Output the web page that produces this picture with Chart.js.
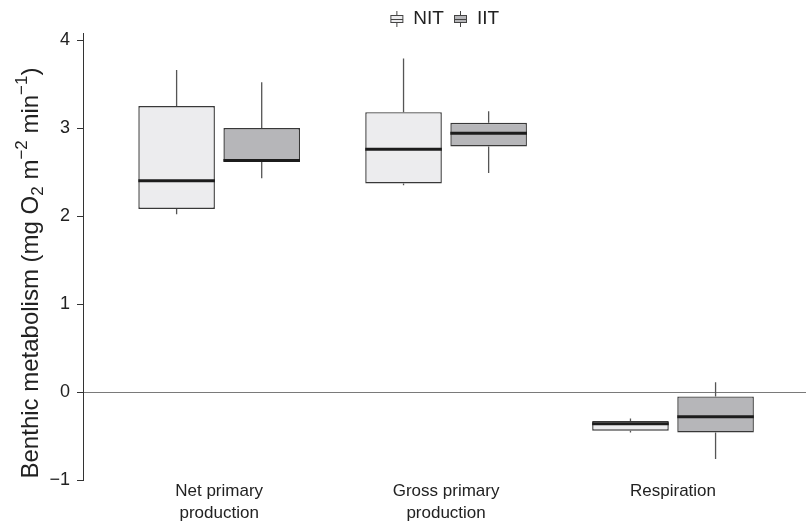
<!DOCTYPE html>
<html>
<head>
<meta charset="utf-8">
<script src="https://cdn.jsdelivr.net/npm/chart.js@4.4.0/dist/chart.umd.min.js"></script>
<style>
  html, body { margin: 0; padding: 0; background: #ffffff; }
  #wrap { width: 806px; height: 522px; position: relative; }
</style>
</head>
<body>
<div id="wrap"><canvas id="chart"></canvas></div>
<script>
// Categories and their positions on the x axis
const categories = [['Net primary', 'production'], ['Gross primary', 'production'], ['Respiration']];
const categoryPositions = [1, 2, 3];
const seriesNames = ['NIT', 'IIT'];

// Box-plot summaries (mg O2 m-2 min-1), one entry per category
const nitMin    = [2.02, 2.35, -0.46];
const nitQ1     = [2.08, 2.37, -0.44];
const nitMedian = [2.40, 2.76, -0.36];
const nitQ3     = [3.25, 3.18, -0.33];
const nitMax    = [3.66, 3.79, -0.30];

const iitMin    = [2.43, 2.49, -0.76];
const iitQ1     = [2.62, 2.79, -0.46];
const iitMedian = [2.63, 2.94, -0.28];
const iitQ3     = [3.00, 3.06, -0.05];
const iitMax    = [3.52, 3.19, 0.11];

const yTicks = [-1, 0, 1, 2, 3, 4];

const FONT = '"Liberation Sans", Arial, Helvetica, sans-serif';
const INK = '#222222';

// Small box-plot glyph used as the legend symbol
function boxGlyph(fill) {
  const c = document.createElement('canvas');
  c.width = 15; c.height = 18;
  const g = c.getContext('2d');
  g.strokeStyle = '#444';
  g.lineWidth = 1;
  g.beginPath(); g.moveTo(7.5, 1); g.lineTo(7.5, 17); g.stroke();
  g.fillStyle = fill;
  g.fillRect(1, 5, 13, 8);
  g.strokeRect(1.5, 5.5, 12, 7);
  g.beginPath(); g.moveTo(1, 9.5); g.lineTo(14, 9.5); g.stroke();
  return c;
}

const fills = ['#ececee', '#b6b6b9'];
const glyphs = fills.map(boxGlyph);

function makeDataset(name, q1, q3, min, median, max, fill) {
  return {
    label: name,
    data: categoryPositions.map((x, i) => ({ x: x, y: [q1[i], q3[i]] })),
    summary: { min: min, median: median, max: max },
    backgroundColor: fill,
    borderColor: '#383838',
    borderWidth: 1.4,
    borderSkipped: false,
    barPercentage: 0.9,
    categoryPercentage: 0.75
  };
}

// Whiskers and median lines drawn on top of each floating bar
const whiskerPlugin = {
  id: 'whiskers',
  afterDatasetsDraw(chart) {
    const ctx = chart.ctx;
    const y = chart.scales.y;
    chart.data.datasets.forEach((ds, di) => {
      const meta = chart.getDatasetMeta(di);
      meta.data.forEach((bar, i) => {
        const cx = bar.x;
        const half = bar.width / 2;
        const [q1, q3] = ds.data[i].y;
        ctx.save();
        ctx.strokeStyle = '#555555';
        ctx.lineWidth = 1.3;
        ctx.beginPath();
        ctx.moveTo(cx, y.getPixelForValue(q3));
        ctx.lineTo(cx, y.getPixelForValue(ds.summary.max[i]));
        ctx.moveTo(cx, y.getPixelForValue(q1));
        ctx.lineTo(cx, y.getPixelForValue(ds.summary.min[i]));
        ctx.stroke();
        ctx.strokeStyle = '#1c1c1c';
        ctx.lineWidth = 3;
        const my = y.getPixelForValue(ds.summary.median[i]);
        ctx.beginPath();
        ctx.moveTo(cx - half, my);
        ctx.lineTo(cx + half, my);
        ctx.stroke();
        ctx.restore();
      });
    });
  }
};

// Y-axis title with subscript and superscripts
const yTitlePlugin = {
  id: 'yTitle',
  afterDraw(chart) {
    const ctx = chart.ctx;
    const size = 24;
    const small = Math.round(size * 0.72);
    const parts = [
      ['Benthic metabolism (mg O', 0],
      ['2', 1],
      [' m', 0],
      ['\u22122', -1],
      [' min', 0],
      ['\u22121', -1],
      [')', 0]
    ];
    ctx.save();
    const widths = parts.map(([t, k]) => {
      ctx.font = (k ? small : size) + 'px ' + FONT;
      return ctx.measureText(t).width;
    });
    const total = widths.reduce((a, b) => a + b, 0);
    ctx.translate(31, 273);
    ctx.rotate(-Math.PI / 2);
    ctx.fillStyle = INK;
    ctx.textBaseline = 'middle';
    ctx.textAlign = 'left';
    let x = -total / 2;
    parts.forEach(([t, k], i) => {
      ctx.font = (k ? small : size) + 'px ' + FONT;
      const dy = k === 1 ? size * 0.3 : (k === -1 ? -size * 0.35 : 0);
      ctx.fillText(t, x, dy);
      x += widths[i];
    });
    ctx.restore();
  }
};

new Chart(document.getElementById('chart'), {
  type: 'bar',
  data: {
    datasets: [
      makeDataset(seriesNames[0], nitQ1, nitQ3, nitMin, nitMedian, nitMax, fills[0]),
      makeDataset(seriesNames[1], iitQ1, iitQ3, iitMin, iitMedian, iitMax, fills[1])
    ]
  },
  options: {
    responsive: true,
    maintainAspectRatio: false,
    animation: false,
    layout: { padding: 0 },
    plugins: {
      tooltip: { enabled: false },
      legend: {
        position: 'top',
        fullSize: false,
        maxHeight: 33,
        labels: {
          usePointStyle: true,
          pointStyleWidth: 14,
          padding: 9.5,
          color: INK,
          font: { family: FONT, size: 19 },
          generateLabels(chart) {
            const items = Chart.defaults.plugins.legend.labels.generateLabels(chart);
            items.forEach((it, i) => { it.pointStyle = glyphs[i]; });
            return items;
          }
        }
      }
    },
    scales: {
      x: {
        type: 'linear',
        offset: false,
        min: 0.4,
        max: 3.586,
        afterBuildTicks(s) { s.ticks = categoryPositions.map(v => ({ value: v })); },
        afterFit(s) { s.height = 42; },
        grid: { display: false, offset: false },
        border: { display: false },
        ticks: {
          color: INK,
          padding: -7,
          maxRotation: 0,
          autoSkip: false,
          font: { family: FONT, size: 17, lineHeight: 1.25 },
          callback(v) { return categories[categoryPositions.indexOf(v)]; }
        }
      },
      y: {
        min: -1,
        max: 4.08,
        afterBuildTicks(s) { s.ticks = yTicks.map(v => ({ value: v })); },
        afterFit(s) { s.width = 83; },
        border: { display: true, color: '#333333', width: 1 },
        grid: {
          drawTicks: true,
          tickLength: 6,
          tickColor: '#333333',
          color(c) { return c.tick && c.tick.value === 0 ? '#7a7a7a' : 'rgba(0,0,0,0)'; },
          lineWidth: 1
        },
        ticks: {
          color: INK,
          padding: 7,
          font: { family: FONT, size: 18 },
          callback(v) { return v < 0 ? '\u2212' + Math.abs(v) : String(v); }
        }
      }
    }
  },
  plugins: [whiskerPlugin, yTitlePlugin]
});
</script>
</body>
</html>
